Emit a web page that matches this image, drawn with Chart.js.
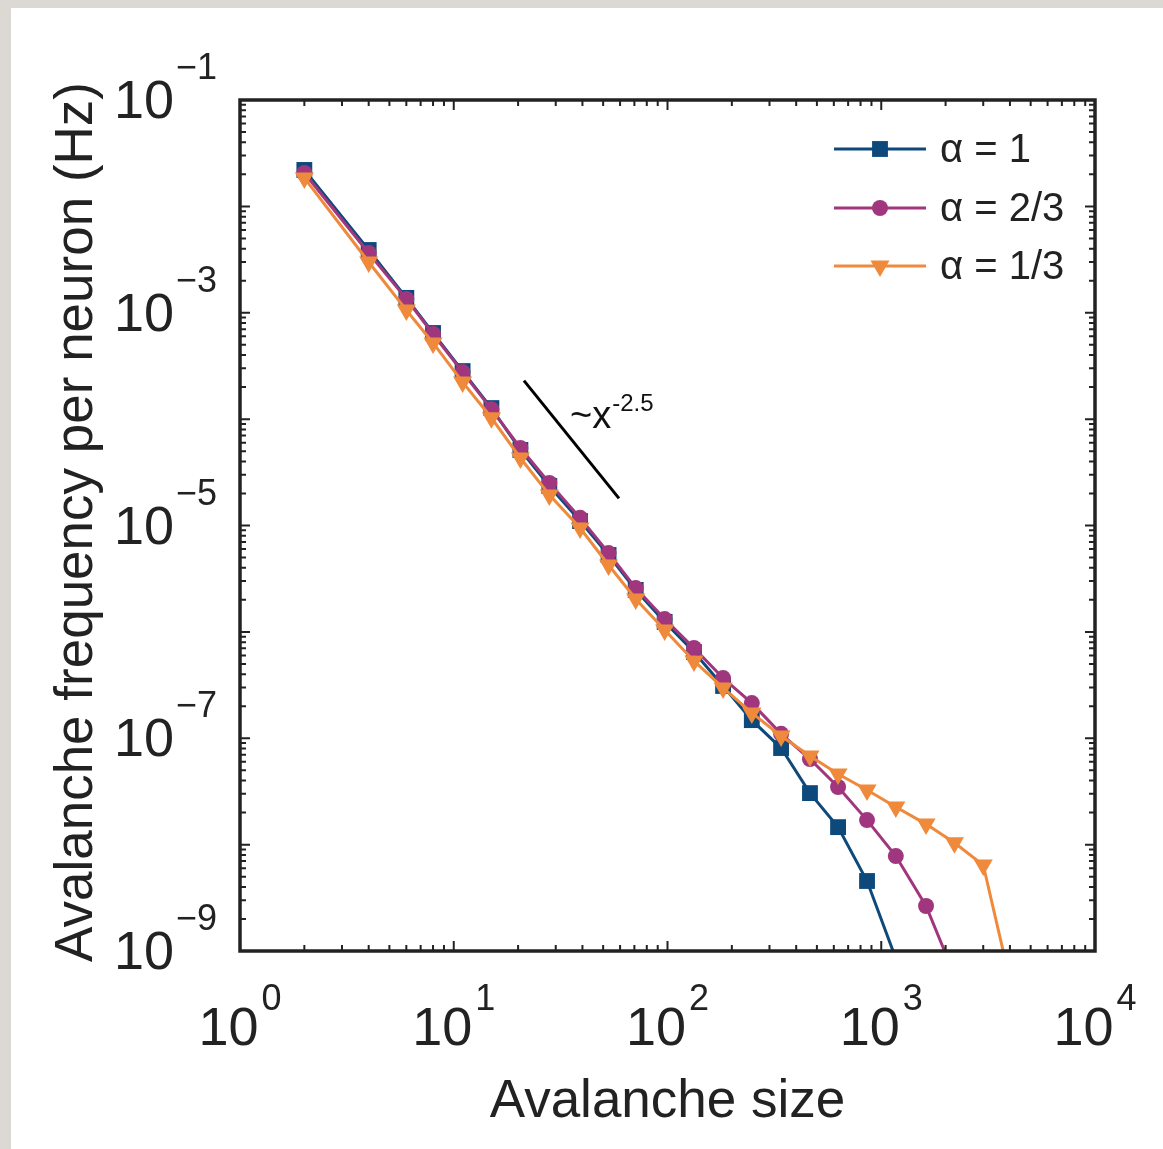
<!DOCTYPE html>
<html>
<head>
<meta charset="utf-8">
<script src="https://cdn.jsdelivr.net/npm/chart.js@4.4.1/dist/chart.umd.min.js"></script>
<style>
html,body{margin:0;padding:0;background:#dcd9d4;overflow:hidden}
#wrap{position:absolute;left:0;top:0;width:1163px;height:1149px}
canvas{display:block}
</style>
</head>
<body>
<div id="wrap"><canvas id="c" width="1163" height="1149"></canvas></div>
<script>
// ---- data ----
const sizes = [2, 4, 6, 8, 11, 15, 20.5, 28, 39, 53, 71, 97, 133, 182, 248, 340, 464, 628, 858, 1170, 1620, 2200, 3000, 4100];
const freqAlpha1 = [2.20e-2, 3.89e-3, 1.38e-3, 6.45e-4, 2.83e-4, 1.27e-4, 5.13e-5, 2.35e-5, 1.10e-5, 5.28e-6, 2.48e-6, 1.24e-6, 6.47e-7, 3.10e-7, 1.48e-7, 8.09e-8, 3.05e-8, 1.46e-8, 4.55e-9, 8.5e-10];
const freqAlpha23 = [2.06e-2, 3.65e-3, 1.35e-3, 6.31e-4, 2.77e-4, 1.24e-4, 5.35e-5, 2.51e-5, 1.18e-5, 5.51e-6, 2.58e-6, 1.32e-6, 7.05e-7, 3.68e-7, 2.14e-7, 1.10e-7, 6.38e-8, 3.48e-8, 1.70e-8, 7.81e-9, 2.65e-9, 5.94e-10];
const freqAlpha13 = [1.85e-2, 3.00e-3, 1.06e-3, 5.20e-4, 2.23e-4, 1.03e-4, 4.31e-5, 1.94e-5, 9.47e-6, 4.25e-6, 2.04e-6, 1.04e-6, 5.33e-7, 2.97e-7, 1.73e-7, 1.05e-7, 6.81e-8, 4.61e-8, 3.26e-8, 2.26e-8, 1.56e-8, 1.04e-8, 6.43e-9, 4.30e-10];
const seriesLabels = ['α = 1', 'α = 2/3', 'α = 1/3'];
const guideX = [21.3, 59.3];
const guideY = [2.3e-4, 1.8e-5];
const guideLabel = '~x';
const guideExponent = '-2.5';
const guideLabelAt = [35, 8.3e-5];
const xTickExponents = [0, 1, 2, 3, 4];
const yTickExponents = [-1, -3, -5, -7, -9];
const xTitle = 'Avalanche size';
const yTitle = 'Avalanche frequency per neuron (Hz)';

// ---- styles ----
const colors = ['#0d4a7b', '#a0377e', '#ef893b'];
const markers = ['rect', 'circle', 'triangle'];
const radii = [11.2, 8, 11];
const INK = '#222222';
const FONT = '"Liberation Sans", Arial, Helvetica, sans-serif';

function pts(xs, ys) { return ys.map((y, i) => ({x: xs[i], y: y})); }

function drawMarker(ctx, style, x, y, r, color) {
  ctx.save();
  ctx.fillStyle = color;
  ctx.beginPath();
  if (style === 'rect') {
    const s = r * Math.SQRT2;
    ctx.rect(x - s / 2, y - s / 2, s, s);
  } else if (style === 'circle') {
    ctx.arc(x, y, r, 0, Math.PI * 2);
  } else {
    ctx.moveTo(x, y + r);
    ctx.lineTo(x - r * Math.sin(Math.PI / 3), y - r / 2);
    ctx.lineTo(x + r * Math.sin(Math.PI / 3), y - r / 2);
    ctx.closePath();
  }
  ctx.fill();
  ctx.restore();
}

const decor = {
  id: 'decor',
  beforeDraw(chart) {
    const ctx = chart.ctx;
    ctx.save();
    ctx.fillStyle = '#dcd9d4';
    ctx.fillRect(0, 0, chart.width, chart.height);
    ctx.fillStyle = '#ffffff';
    ctx.fillRect(11, 8, chart.width - 11, chart.height - 8);
    ctx.restore();
  },
  afterDraw(chart) {
    const ctx = chart.ctx;
    const xs = chart.scales.x, ys = chart.scales.y;
    const a = chart.chartArea;
    ctx.save();
    // ticks
    ctx.strokeStyle = INK;
    ctx.lineWidth = 2;
    const majL = 10, minL = 6;
    for (let n = 0; n <= 4; n++) {
      for (let k = 1; k <= 9; k++) {
        if (n === 4 && k > 1) break;
        const v = k * Math.pow(10, n);
        const px = xs.getPixelForValue(v);
        const L = k === 1 ? majL : minL;
        ctx.beginPath();
        ctx.moveTo(px, a.bottom); ctx.lineTo(px, a.bottom - L);
        ctx.moveTo(px, a.top); ctx.lineTo(px, a.top + L);
        ctx.stroke();
      }
    }
    for (let n = -9; n <= -1; n++) {
      for (let k = 1; k <= 9; k++) {
        if (n === -1 && k > 1) break;
        const v = k * Math.pow(10, n);
        const py = ys.getPixelForValue(v);
        const L = k === 1 ? majL : minL;
        ctx.beginPath();
        ctx.moveTo(a.left, py); ctx.lineTo(a.left + L, py);
        ctx.moveTo(a.right, py); ctx.lineTo(a.right - L, py);
        ctx.stroke();
      }
    }
    // box
    ctx.lineWidth = 3.5;
    ctx.strokeRect(a.left, a.top, a.right - a.left, a.bottom - a.top);

    // tick labels
    ctx.fillStyle = INK;
    ctx.textBaseline = 'alphabetic';
    const bigF = '54px ' + FONT, supF = '36px ' + FONT;
    xTickExponents.forEach(e => {
      const px = xs.getPixelForValue(Math.pow(10, e));
      ctx.font = bigF; const w1 = ctx.measureText('10').width;
      ctx.font = supF; const w2 = ctx.measureText(String(e)).width;
      const start = px - (w1 + 3 + w2) / 2;
      ctx.font = bigF; ctx.textAlign = 'left';
      ctx.fillText('10', start, a.bottom + 94);
      ctx.font = supF;
      ctx.fillText(String(e), start + w1 + 3, a.bottom + 59);
    });
    yTickExponents.forEach(e => {
      const py = ys.getPixelForValue(Math.pow(10, e));
      ctx.font = bigF; const w1 = ctx.measureText('10').width;
      ctx.textAlign = 'left';
      const start = 114;
      ctx.fillText('10', start, py + 18);
      ctx.font = supF;
      ctx.fillText('\u2212' + String(Math.abs(e)), start + w1 + 2, py - 21);
    });

    // axis titles
    ctx.font = '53px ' + FONT;
    ctx.textAlign = 'center';
    ctx.fillText(xTitle, (a.left + a.right) / 2, 1117);
    ctx.save();
    ctx.translate(92, 522);
    ctx.rotate(-Math.PI / 2);
    ctx.fillText(yTitle, 0, 0);
    ctx.restore();

    // guide annotation
    const gx = xs.getPixelForValue(guideLabelAt[0]);
    const gy = ys.getPixelForValue(guideLabelAt[1]);
    ctx.textAlign = 'left';
    ctx.font = '38px ' + FONT;
    ctx.fillStyle = '#111';
    ctx.fillText(guideLabel, gx, gy);
    const gw = ctx.measureText(guideLabel).width;
    ctx.font = '24px ' + FONT;
    ctx.fillText(guideExponent, gx + gw + 1, gy - 17);

    // legend
    const rows = [149, 208, 266];
    seriesLabels.forEach((lab, i) => {
      const y = rows[i];
      ctx.strokeStyle = colors[i];
      ctx.lineWidth = 3;
      ctx.beginPath(); ctx.moveTo(834, y); ctx.lineTo(926, y); ctx.stroke();
      drawMarker(ctx, markers[i], 880, y, radii[i], colors[i]);
      ctx.fillStyle = INK;
      ctx.font = '40px ' + FONT;
      ctx.textAlign = 'left';
      ctx.textBaseline = 'middle';
      ctx.fillText(lab, 940, y + 2);
    });
    ctx.restore();
  }
};

function series(i, data, order) {
  return {
    label: seriesLabels[i],
    data: pts(sizes, data),
    borderColor: colors[i],
    backgroundColor: colors[i],
    borderWidth: 3,
    pointStyle: markers[i],
    pointRadius: radii[i],
    pointBorderWidth: 0,
    pointBackgroundColor: colors[i],
    pointRotation: markers[i] === 'triangle' ? 180 : 0,
    tension: 0,
    order: order
  };
}

new Chart(document.getElementById('c'), {
  type: 'line',
  data: {
    datasets: [
      series(0, freqAlpha1, 2),
      series(1, freqAlpha23, 1),
      series(2, freqAlpha13, 0),
      {
        label: 'guide',
        data: pts(guideX, guideY),
        borderColor: '#000',
        borderWidth: 3,
        pointRadius: 0,
        order: 3
      }
    ]
  },
  options: {
    responsive: false,
    animation: false,
    devicePixelRatio: 1,
    layout: {padding: {left: 240, top: 100, right: 68, bottom: 198}},
    scales: {
      x: {type: 'logarithmic', min: 1, max: 1e4, display: false},
      y: {type: 'logarithmic', min: 1e-9, max: 1e-1, display: false}
    },
    plugins: {legend: {display: false}, tooltip: {enabled: false}},
    events: []
  },
  plugins: [decor]
});
</script>
</body>
</html>
